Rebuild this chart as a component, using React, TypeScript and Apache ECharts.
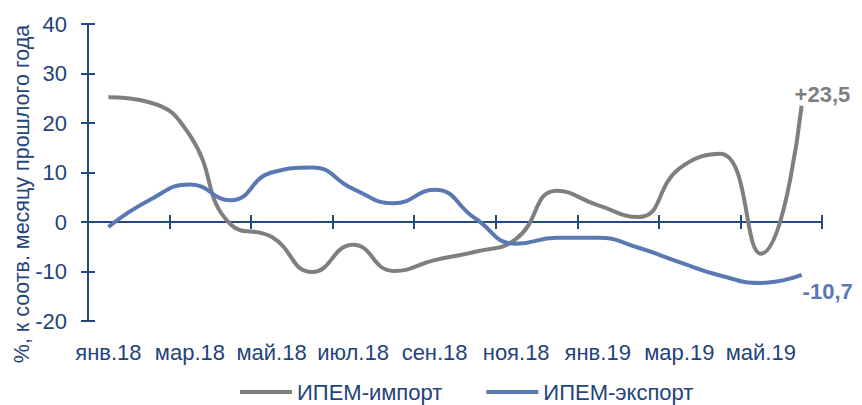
import React, { useEffect, useRef } from "react";
import * as echarts from "echarts";

const categories = [
  "янв.18", "фев.18", "мар.18", "апр.18", "май.18", "июн.18", "июл.18", "авг.18", "сен.18",
  "окт.18", "ноя.18", "дек.18", "янв.19", "фев.19", "мар.19", "апр.19", "май.19", "июн.19",
];
const importValues = [25.2, 24.2, 17.5, -0.5, -3.0, -10.1, -4.6, -9.9, -7.7, -6.0, -3.4, 6.3, 3.4, 1.0, 10.8, 13.8, -6.4, 23.5];
const exportValues = [-1.0, 4.4, 7.6, 4.4, 10.0, 11.0, 6.7, 3.8, 6.5, 0.7, -4.4, -3.2, -3.2, -5.2, -8.1, -10.8, -12.3, -10.7];
const seriesNames = ["ИПЕМ-импорт", "ИПЕМ-экспорт"];
const importLastLabel = "+23,5";
const exportLastLabel = "-10,7";
const yTitle = "%, к соотв. месяцу прошлого года";

const FONT = "'Liberation Sans', Arial, sans-serif";
const AXIS_BLUE = "#234a7e";
const TEXT_BLUE = "#23437b";
const GRAY = "#7f7f7f";
const BLUE = "#5a78b1";

export default function App() {
  const ref = useRef<HTMLDivElement>(null);
  useEffect(() => {
    if (!ref.current) return;
    const chart = echarts.init(ref.current, null, { renderer: "svg" });
    const yBase = {
      type: "value",
      min: -20,
      max: 40,
      interval: 10,
      position: "left",
      splitLine: { show: false },
    };
    const xBase = {
      type: "category",
      data: categories,
      boundaryGap: true,
      position: "bottom",
    };
    chart.setOption({
      animation: false,
      textStyle: { fontFamily: FONT },
      grid: { left: 88, right: 40, top: 24, bottom: 84, containLabel: false, outerBoundsMode: "none" },
      xAxis: [
        {
          ...xBase,
          axisLine: { show: true, onZero: true, lineStyle: { color: AXIS_BLUE, width: 2 } },
          axisTick: { show: true, inside: false, length: 7, interval: 1, lineStyle: { color: AXIS_BLUE, width: 2 } },
          axisLabel: { interval: 1, margin: 20, color: TEXT_BLUE, fontSize: 22, fontFamily: FONT, hideOverlap: false },
        },
        {
          ...xBase,
          axisLine: { show: false, onZero: true },
          axisTick: { show: true, inside: true, length: 7, interval: 1, lineStyle: { color: AXIS_BLUE, width: 2 } },
          axisLabel: { show: false, interval: 1 },
        },
      ],
      yAxis: [
        {
          ...yBase,
          axisLine: { show: true, lineStyle: { color: AXIS_BLUE, width: 2 } },
          axisTick: { show: true, inside: false, length: 7, lineStyle: { color: AXIS_BLUE, width: 2 } },
          axisLabel: { margin: 21, color: TEXT_BLUE, fontSize: 22, fontFamily: FONT },
        },
        {
          ...yBase,
          axisLine: { show: false },
          axisTick: { show: true, inside: true, length: 7, lineStyle: { color: AXIS_BLUE, width: 2 } },
          axisLabel: { show: false },
        },
      ],
      legend: {
        left: 235,
        top: 376,
        icon: "rect",
        itemWidth: 52,
        itemHeight: 4,
        itemGap: 44,
        textStyle: { color: TEXT_BLUE, fontSize: 22, fontFamily: FONT },
        data: seriesNames,
      },
      graphic: [
        {
          type: "text",
          x: 22,
          y: 194,
          rotation: Math.PI / 2,
          style: {
            text: yTitle,
            fill: TEXT_BLUE,
            font: `21.5px ${FONT}`,
            align: "center",
            verticalAlign: "middle",
          },
        },
      ],
      series: [
        {
          name: seriesNames[0],
          type: "line",
          data: importValues,
          smooth: 0.5,
          symbol: "none",
          lineStyle: { color: GRAY, width: 4 },
          itemStyle: { color: GRAY },
          endLabel: {
            show: true,
            formatter: importLastLabel,
            distance: 0,
            offset: [-7, -11],
            color: GRAY,
            fontWeight: "bold",
            fontSize: 22,
            fontFamily: FONT,
          },
        },
        {
          name: seriesNames[1],
          type: "line",
          data: exportValues,
          smooth: 0.5,
          symbol: "none",
          lineStyle: { color: BLUE, width: 4 },
          itemStyle: { color: BLUE },
          endLabel: {
            show: true,
            formatter: exportLastLabel,
            distance: 0,
            offset: [1, 17],
            color: BLUE,
            fontWeight: "bold",
            fontSize: 22,
            fontFamily: FONT,
          },
        },
      ],
    });
    return () => chart.dispose();
  }, []);
  return <div ref={ref} style={{ width: 862, height: 405, position: "absolute", left: 0, top: 0 }} />;
}
